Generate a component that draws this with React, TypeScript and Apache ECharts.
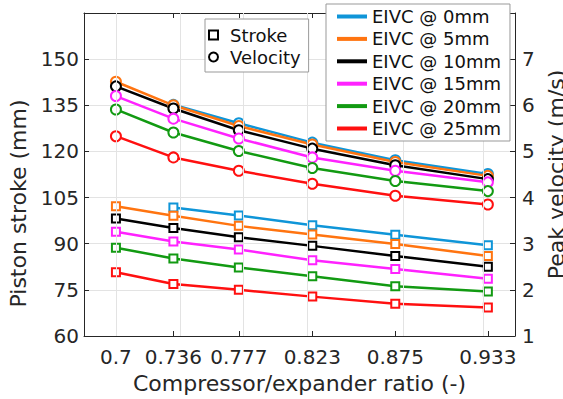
import React, { useEffect, useRef } from "react";
import * as echarts from "echarts";

const xTicks = [0.7, 0.736, 0.777, 0.823, 0.875, 0.933];
const seriesNames = ["EIVC @ 0mm", "EIVC @ 5mm", "EIVC @ 10mm", "EIVC @ 15mm", "EIVC @ 20mm", "EIVC @ 25mm"];
const colors = ["#0f95d8", "#ff7410", "#000000", "#ff22ff", "#129a12", "#ff1010"];

const strokeBlue = [null, 101.8, 99.2, 96.0, 92.9, 89.5];
const strokeOrange = [102.2, 99.1, 95.8, 93.0, 89.9, 86.0];
const strokeBlack = [98.2, 95.1, 92.1, 89.3, 86.0, 82.5];
const strokeMagenta = [93.9, 90.7, 88.1, 84.6, 81.8, 78.6];
const strokeGreen = [88.7, 85.2, 82.3, 79.4, 76.2, 74.5];
const strokeRed = [80.7, 76.9, 75.0, 72.8, 70.5, 69.3];

const velBlue = [null, 6.01, 5.61, 5.19, 4.81, 4.51];
const velOrange = [6.51, 6.0, 5.55, 5.15, 4.77, 4.47];
const velBlack = [6.41, 5.93, 5.46, 5.06, 4.7, 4.4];
const velMagenta = [6.2, 5.71, 5.28, 4.87, 4.58, 4.33];
const velGreen = [5.91, 5.41, 5.01, 4.64, 4.36, 4.14];
const velRed = [5.33, 4.87, 4.58, 4.3, 4.04, 3.85];

const strokeSets = [strokeBlue, strokeOrange, strokeBlack, strokeMagenta, strokeGreen, strokeRed];
const velSets = [velBlue, velOrange, velBlack, velMagenta, velGreen, velRed];

const FONT = "DejaVu Sans";
const AX = "#262626";

function pairs(vals: (number | null)[]) {
  const out: [number, number][] = [];
  vals.forEach((v, i) => {
    if (v !== null) out.push([xTicks[i], v]);
  });
  return out;
}

export default function App() {
  const ref = useRef<HTMLDivElement>(null);
  useEffect(() => {
    if (!ref.current) return;
    const chart = echarts.init(ref.current, null, { renderer: "svg" });
    const series: any[] = [];
    series.push({
      name: "grid",
      type: "line",
      data: [],
      z: 1,
      silent: true,
      markLine: {
        silent: true,
        symbol: ["none", "none"],
        label: { show: false },
        lineStyle: { color: "#e3e3e3", type: "solid", width: 1 },
        emphasis: { disabled: true },
        data: xTicks.map((v) => ({ xAxis: v })),
      },
    });
    strokeSets.forEach((s, i) => {
      series.push({
        name: seriesNames[i],
        type: "line",
        yAxisIndex: 0,
        data: pairs(s),
        symbol: "emptyRect",
        symbolSize: 8,
        color: colors[i],
        lineStyle: { width: 2.5, color: colors[i] },
        itemStyle: { color: colors[i], borderWidth: 2 },
        z: 2,
      });
    });
    velSets.forEach((s, i) => {
      series.push({
        name: seriesNames[i],
        type: "line",
        yAxisIndex: 1,
        data: pairs(s),
        symbol: "emptyCircle",
        symbolSize: 10,
        color: colors[i],
        lineStyle: { width: 2.5, color: colors[i] },
        itemStyle: { color: colors[i], borderWidth: 2 },
        z: 2,
      });
    });
    series.push({ name: "Stroke", type: "line", data: [], color: "#000", itemStyle: { color: "#000" } });
    series.push({ name: "Velocity", type: "line", data: [], color: "#000", itemStyle: { color: "#000" } });

    const axisCommon = {
      axisLine: { show: true, lineStyle: { color: AX, width: 1 } },
      axisTick: { show: true, inside: true, length: 5, lineStyle: { color: AX } },
    };

    chart.setOption({
      animation: false,
      backgroundColor: "#fff",
      grid: { left: 84, right: 48, top: 13, bottom: 63, containLabel: false, outerBoundsMode: "none" },
      xAxis: [
        {
          type: "value",
          min: 0.68,
          max: 0.95,
          position: "bottom",
          ...axisCommon,
          axisTick: { ...axisCommon.axisTick, customValues: xTicks },
          axisLabel: { customValues: xTicks, fontSize: 20, margin: 11, color: AX, fontFamily: FONT },
          splitLine: { show: false },
          name: "Compressor/expander ratio (-)",
          nameLocation: "middle",
          nameGap: 36,
          nameTextStyle: { fontSize: 22, color: AX, fontFamily: FONT },
        },
        {
          type: "value",
          min: 0.68,
          max: 0.95,
          position: "top",
          ...axisCommon,
          axisTick: { ...axisCommon.axisTick, customValues: xTicks },
          axisLabel: { show: false },
          splitLine: { show: false },
        },
      ],
      yAxis: [
        {
          type: "value",
          min: 60,
          max: 165,
          interval: 15,
          position: "left",
          ...axisCommon,
          axisLabel: { showMaxLabel: false, fontSize: 20, margin: 5, color: AX, fontFamily: FONT },
          splitLine: { show: true, lineStyle: { color: "#e3e3e3", width: 1 } },
          name: "Piston stroke (mm)",
          nameLocation: "middle",
          nameGap: 43,
          nameTextStyle: { fontSize: 22, color: AX, fontFamily: FONT, padding: [0, 58, 0, 0] },
        },
        {
          type: "value",
          min: 1,
          max: 8,
          interval: 1,
          position: "right",
          ...axisCommon,
          axisLabel: { showMaxLabel: false, fontSize: 20, margin: 7, color: AX, fontFamily: FONT },
          splitLine: { show: false },
          name: "Peak velocity (m/s)",
          nameLocation: "middle",
          nameGap: 25,
          nameTextStyle: { fontSize: 22, lineHeight: 22, color: AX, fontFamily: FONT },
        },
      ],
      legend: [
        {
          orient: "vertical",
          left: 326,
          top: 4,
          padding: [2, 9, 2, 11],
          itemWidth: 30,
          itemHeight: 4,
          itemGap: 1.4,
          icon: "rect",
          data: seriesNames,
          selectedMode: false,
          textStyle: { fontSize: 18, fontFamily: FONT, color: "#111", lineHeight: 21 },
          borderColor: "#999",
          borderWidth: 1,
          backgroundColor: "#fff",
          z: 10,
        },
        {
          orient: "vertical",
          left: 205,
          top: 19,
          padding: [5, 8, 4, 3],
          itemWidth: 9,
          itemHeight: 9,
          itemGap: 0,
          data: [
            { name: "Stroke", icon: "emptyRect" },
            { name: "Velocity", icon: "emptyCircle" },
          ],
          selectedMode: false,
          textStyle: { fontSize: 18, fontFamily: FONT, color: "#111", lineHeight: 22, padding: [0, 0, 0, 7] },
          borderColor: "#999",
          borderWidth: 1,
          backgroundColor: "#fff",
          z: 10,
        },
      ],
      series,
    });
    return () => chart.dispose();
  }, []);
  return <div ref={ref} style={{ position: "fixed", left: 0, top: 0, width: 563, height: 399 }} />;
}
